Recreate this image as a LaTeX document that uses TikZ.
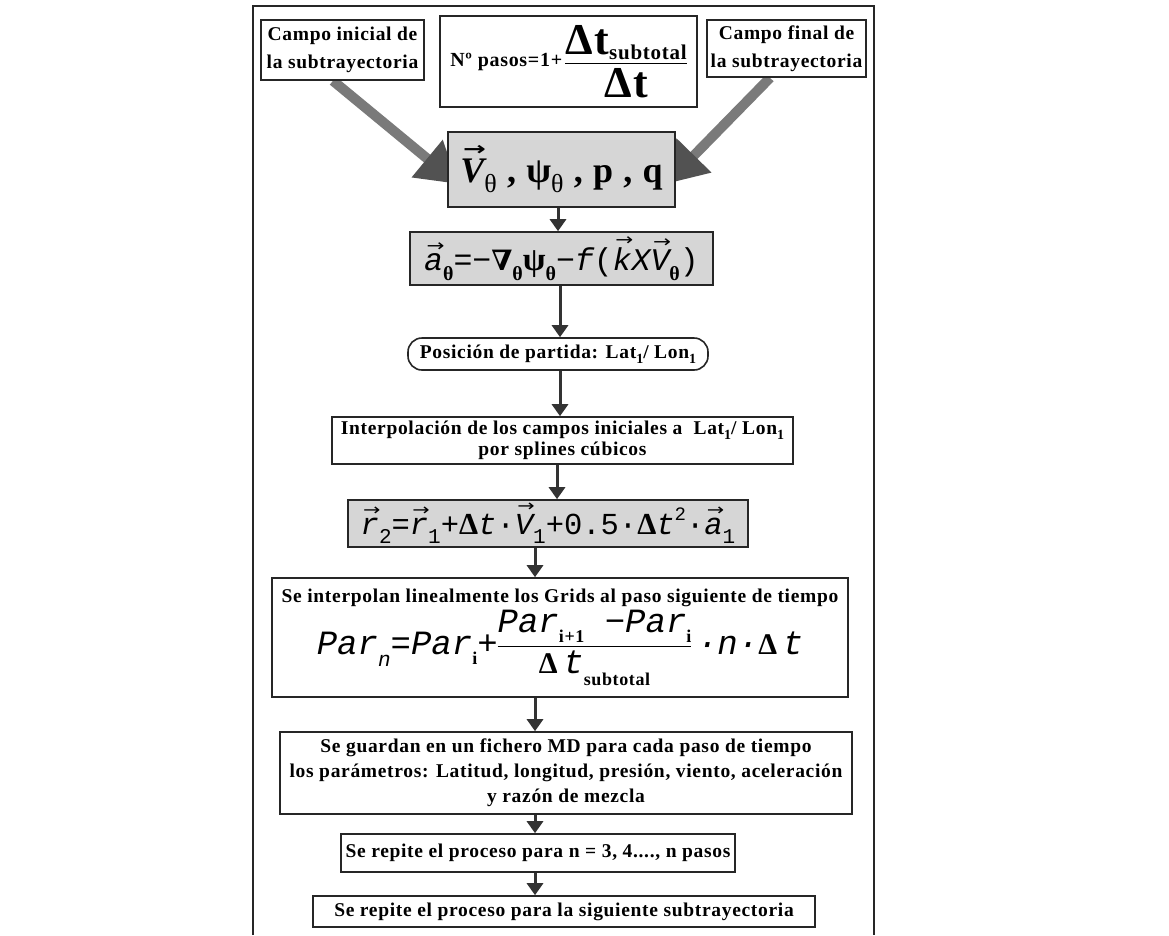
\documentclass[tikz,border=0pt]{standalone}
\usepackage{graphicx}
\usepackage{fontspec}
\setmainfont{Liberation Serif}
\newfontfamily\tb{Liberation Serif}[LetterSpace=3.5]
\newfontfamily\cmo{Liberation Mono}
\newfontfamily\dvs{DejaVu Serif}
\newfontfamily\arrowfont{DejaVu Sans}
\usetikzlibrary{arrows.meta,calc,backgrounds}
\newsavebox\vvbox
\newcommand\vv[1]{\leavevmode\sbox\vvbox{#1}\rlap{\hspace{0.08em}\raisebox{\dimexpr\ht\vvbox+2.5pt\relax}{\resizebox*{0.95\wd\vvbox}{0.28em}{\arrowfont →}}}\usebox\vvbox}
\newcommand\mysub[3]{\raisebox{-#1}{\fontsize{#2}{#2}\selectfont #3}}
\newcommand\fr[2]{\ensuremath{\vcenter{\offinterlineskip\halign{\hfil##\hfil\cr #1\cr\noalign{\kern3pt\hrule height1.4pt\kern4pt}#2\cr}}}}
\newcommand\bxfont{\tb\bfseries\fontsize{19.5}{25}\selectfont}
\tikzset{
 box/.style={draw=black!85, line width=1.6pt, fill=white, align=center, inner sep=0pt, font=\bxfont},
 gbox/.style={box, fill=black!16},
 flow/.style={draw=black!80, line width=3pt, -{Triangle[width=16pt,length=12pt]}},
 fat/.style={draw=black!52, line width=10pt, -{Triangle[width=46pt,length=40pt,color=black!68,fill=black!68]}},
 frame/.style={draw=black!85, line width=2pt},
}
\begin{document}
\begin{tikzpicture}[x=1pt,y=-1pt]
\useasboundingbox (0,0) rectangle (1169,935);
\draw[frame] (253,935) -- (253,6) -- (874,6) -- (874,935);

\node[box, minimum width=163, minimum height=60, font=\tb\bfseries\fontsize{19.5}{28}\selectfont] (A) at (342.5,50) {Campo inicial de\\la subtrayectoria};
\node[box, minimum width=159, minimum height=57, font=\tb\bfseries\fontsize{19.5}{28}\selectfont] (C) at (786.5,48.5) {Campo final de\\la subtrayectoria};
\node[box, minimum width=257, minimum height=91] (B) at (568.5,61.5)
 {{\fontsize{20}{22}\selectfont Nº pasos=1+}\,\fr{{\fontsize{44}{44}\selectfont Δt}\mysub{0.25em}{21}{subtotal}}{{\fontsize{44}{44}\selectfont Δt}}};

\coordinate (dl) at (458,184);
\coordinate (dr) at (666,184);

\node[gbox, minimum width=227, minimum height=75, font=\tb\bfseries\fontsize{36}{36}\selectfont] (D) at (561.5,169.5)
 {\vv{\itshape V}\mysub{0.3em}{26}{\mdseries θ} , ψ\mysub{0.3em}{26}{\mdseries θ} , p , q};

\node[gbox, minimum width=303, minimum height=53, font=\cmo\fontsize{31.5}{31.5}\selectfont] (E) at (561.5,258.5)
 {\vv{\itshape a}\mysub{0.3em}{20}{\tb\bfseries θ}=−{\dvs\bfseries\fontsize{28}{28}\selectfont ∇}\mysub{0.3em}{20}{\tb\bfseries θ}{\tb\bfseries\fontsize{33}{33}\selectfont ψ}\mysub{0.3em}{20}{\tb\bfseries θ}−{\itshape f}({\vv{\itshape k}}{\itshape X}\vv{\itshape V}\mysub{0.3em}{20}{\tb\bfseries θ})};

\node[box, minimum width=300, minimum height=32, rounded corners=14pt] (F) at (558,354)
 {Posición de partida: Lat\mysub{0.25em}{14}{1}/ Lon\mysub{0.25em}{14}{1}};

\node[box, minimum width=461, minimum height=47, font=\tb\bfseries\fontsize{19.5}{21}\selectfont] (G) at (562.5,440.5)
 {Interpolación de los campos iniciales a\ \ Lat\mysub{0.25em}{14}{1}/ Lon\mysub{0.25em}{14}{1}\\por splines cúbicos};

\node[gbox, minimum width=400, minimum height=47, font=\cmo\fontsize{30.5}{30.5}\selectfont] (H) at (548,523.5)
 {\vv{\itshape r}\mysub{0.3em}{21}{2}={\vv{\itshape r}}\mysub{0.3em}{21}{1}+{\tb\bfseries Δ}{\itshape t}·\vv{\itshape V}\mysub{0.3em}{21}{1}+0.5·{\tb\bfseries Δ}{\itshape t}\raisebox{0.45em}{\fontsize{19}{19}\selectfont 2}·\vv{\itshape a}\mysub{0.3em}{21}{1}};

\node[box, minimum width=576, minimum height=119] (I) at (560,637.5)
 {Se interpolan linealmente los Grids al paso siguiente de tiempo\\[2pt]
 {\cmo\mdseries\itshape\fontsize{34}{34}\selectfont Par\mysub{0.35em}{21}{n}=Par\mysub{0.3em}{18}{\tb\upshape\bfseries i}+\fr{Par\mysub{0.3em}{18}{\tb\upshape\bfseries i+1} −Par\mysub{0.3em}{18}{\tb\upshape\bfseries i}}{{\tb\upshape\bfseries\fontsize{30}{30}\selectfont Δ}\,t\mysub{0.35em}{18}{\tb\upshape\bfseries subtotal}}\,·n·{\tb\upshape\bfseries\fontsize{30}{30}\selectfont Δ}\,t}};

\node[box, minimum width=572, minimum height=82] (J) at (566,773)
 {Se guardan en un fichero MD para cada paso de tiempo\\los parámetros: Latitud, longitud, presión, viento, aceleración\\y razón de mezcla};

\node[box, minimum width=394, minimum height=38] (K) at (538,853) {Se repite el proceso para n = 3, 4...., n pasos};
\node[box, minimum width=502, minimum height=31] (L) at (564,911.5) {Se repite el proceso para la siguiente subtrayectoria};

\coordinate (ax) at (535,0);
\draw[flow] (D.south -| 558,0) -- (E.north -| 558,0);
\draw[flow] (E.south -| 560,0) -- (F.north -| 560,0);
\draw[flow] (F.south -| 560,0) -- (G.north -| 560,0);
\draw[flow] (G.south -| 557,0) -- (H.north -| 557,0);
\draw[flow] (ax |- H.south) -- (ax |- I.north);
\draw[flow] (ax |- I.south) -- (ax |- J.north);
\draw[flow] (ax |- J.south) -- (ax |- K.north);
\draw[flow] (ax |- K.south) -- (ax |- L.north);

\begin{scope}[on background layer]
\fill[white] (0,0) rectangle (1169,935);
\draw[fat] ([xshift=-9.5pt]A.south) -- (dl);
\draw[fat] ([xshift=-16.5pt]C.south) -- (dr);
\end{scope}
\end{tikzpicture}
\end{document}
